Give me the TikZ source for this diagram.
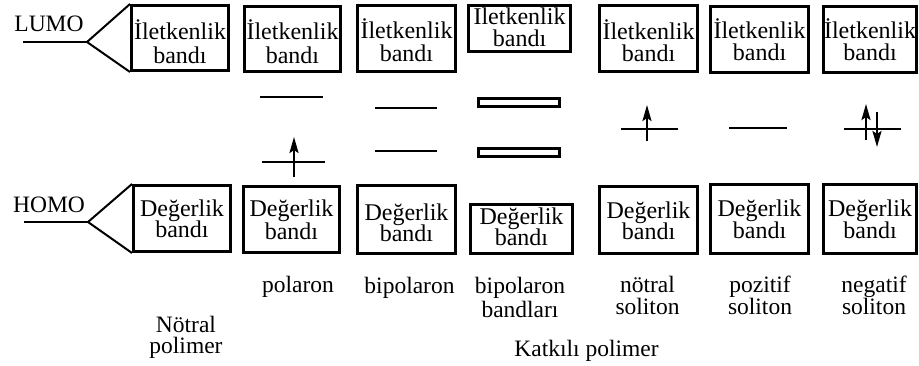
\documentclass[tikz,border=0pt]{standalone}
\usepackage{fontspec}
\setmainfont{Liberation Serif}
\usetikzlibrary{arrows.meta}
\newcommand\twoline[3]{\vbox{\baselineskip=#1\lineskiplimit=-100pt\relax\halign{\hfil##\hfil\cr#2\cr#3\cr}}}
\newcommand\boxtext[4]{\raisebox{#1}[0pt][0pt]{\twoline{#2}{#3}{#4}}}
\tikzset{
  band/.style={draw, line width=2.6pt, inner sep=0pt, font=\fontsize{24}{24}\selectfont},
  lbl/.style={inner sep=0pt, anchor=base, font=\fontsize{23.5}{23.5}\selectfont},
  level/.style={line width=2.5pt},
  wing/.style={line width=2pt},
  spin/.style={line width=2.4pt, -{Stealth[length=16pt,width=9pt,inset=3pt]}},
  gapband/.style={draw, line width=3pt}
}
\begin{document}
\begin{tikzpicture}[x=1pt, y=-1pt]
\useasboundingbox (0,0) rectangle (919,366);

% upper boxes (conduction band)
\node[band, minimum width=97.4pt, minimum height=65.4pt] (u1) at (180,38) {\boxtext{-26pt}{24pt}{İletkenlik}{bandı}};
\node[band, minimum width=96.4pt, minimum height=65.4pt] (u2) at (292.5,39) {\boxtext{-25pt}{24pt}{İletkenlik}{bandı}};
\node[band, minimum width=98.4pt, minimum height=66.4pt] (u3) at (406.5,38.5) {\boxtext{-23.5pt}{23pt}{İletkenlik}{bandı}};
\node[band, minimum width=102.4pt, minimum height=46.4pt] (u4) at (519.5,28.5) {\boxtext{-18.5pt}{22pt}{İletkenlik}{bandı}};
\node[band, minimum width=98.4pt, minimum height=66.4pt] (u5) at (648.5,38.5) {\boxtext{-23.2pt}{22pt}{İletkenlik}{bandı}};
\node[band, minimum width=98.4pt, minimum height=66.4pt] (u6) at (759.5,39.5) {\boxtext{-21.5pt}{22pt}{İletkenlik}{bandı}};
\node[band, minimum width=93.4pt, minimum height=66.4pt] (u7) at (870,39.5) {\boxtext{-21.5pt}{22pt}{İletkenlik}{bandı}};

% lower boxes (valence band)
\node[band, minimum width=97.4pt, minimum height=66.4pt] (l1) at (182,218.5) {\boxtext{-19.5pt}{21.5pt}{Değerlik}{bandı}};
\node[band, minimum width=96.4pt, minimum height=66.4pt] (l2) at (291.5,219.5) {\boxtext{-20.5pt}{23pt}{Değerlik}{bandı}};
\node[band, minimum width=98.4pt, minimum height=68.4pt] (l3) at (406.5,219.5) {\boxtext{-22.2pt}{21pt}{Değerlik}{bandı}};
\node[band, minimum width=102.4pt, minimum height=49.4pt] (l4) at (521.5,229) {\boxtext{-16.7pt}{21.5pt}{Değerlik}{bandı}};
\node[band, minimum width=98.4pt, minimum height=67.4pt] (l5) at (648.5,220) {\boxtext{-19.3pt}{21pt}{Değerlik}{bandı}};
\node[band, minimum width=98.4pt, minimum height=69.4pt] (l6) at (759.5,219) {\boxtext{-19.3pt}{21.5pt}{Değerlik}{bandı}};
\node[band, minimum width=93.4pt, minimum height=69.4pt] (l7) at (870,219) {\boxtext{-19.3pt}{21.5pt}{Değerlik}{bandı}};

% LUMO / HOMO
\node[lbl] (lumo) at (49,32) {LUMO};
\node[lbl] (homo) at (49,213) {HOMO};
\coordinate (lumoend) at (23,42);
\coordinate (lumoapex) at (87,42);
\coordinate (homoend) at (24,222);
\coordinate (homoapex) at (88,222);
\draw[level] (lumoend) -- (lumoapex);
\draw[wing] (u1.north west) -- (lumoapex) -- (u1.south west);
\draw[level] (homoend) -- (homoapex);
\draw[wing] (l1.north west) -- (homoapex) -- (l1.south west);

% polaron
\draw[level] (260,97) -- (323,97);
\draw[level] (262,162) -- (325,162);
\draw[spin] (294,177) -- (294,137);

% bipolaron
\draw[level] (375,108) -- (437,108);
\draw[level] (375,151) -- (437,151);

% bipolaron bands
\draw[gapband] (478.5,98.5) rectangle (559.5,106.5);
\draw[gapband] (478.5,148.5) rectangle (559.5,156.5);

% neutral soliton
\draw[level] (621,129) -- (678,129);
\draw[spin] (647,141) -- (647,105);

% positive soliton
\draw[level] (729,128) -- (787,128);

% negative soliton
\draw[level] (844,129) -- (901,129);
\draw[spin] (866,140) -- (866,104);
\draw[spin] (877,112) -- (877,147);

% labels
\node[lbl] (polaron) at (298,293) {polaron};
\node[lbl] (bipolaron) at (409.5,294) {bipolaron};
\node[lbl] (bands) at (520,317) {\twoline{23.5pt}{bipolaron}{bandları}};
\node[lbl] (nsol) at (647.5,315) {\twoline{22pt}{nötral}{soliton}};
\node[lbl] (psol) at (760,315) {\twoline{22pt}{pozitif}{soliton}};
\node[lbl] (negsol) at (874,315) {\twoline{22pt}{negatif}{soliton}};
\node[lbl] (neutral) at (186,353) {\twoline{21pt}{Nötral}{polimer}};
\node[lbl] (doped) at (586.5,356) {Katkılı polimer};
\end{tikzpicture}
\end{document}
